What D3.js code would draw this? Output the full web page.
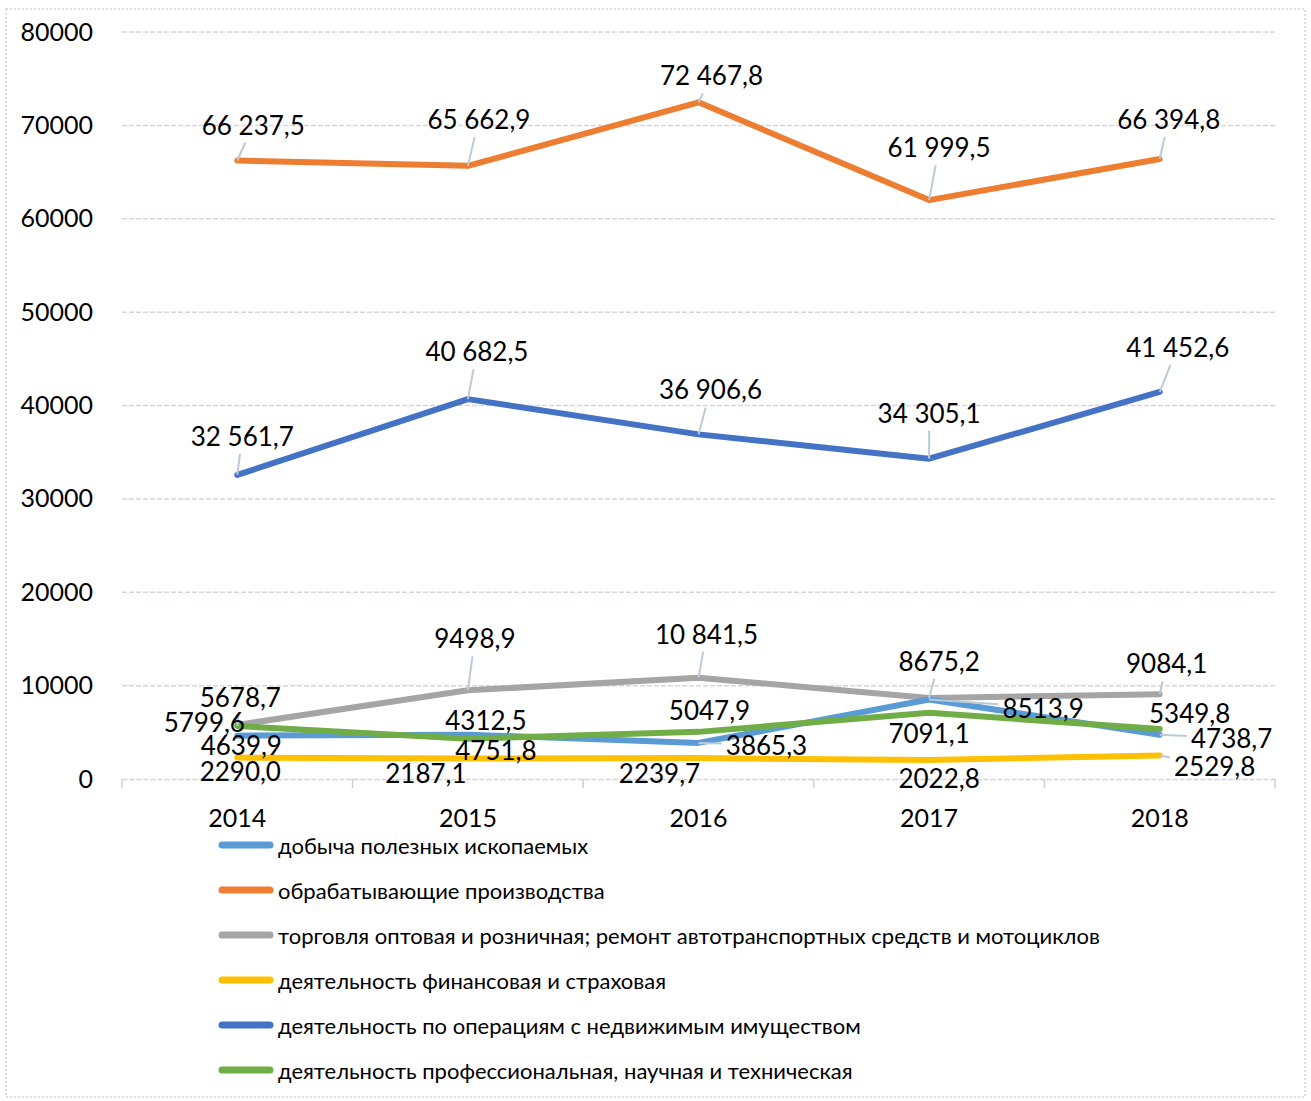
<!DOCTYPE html>
<html><head><meta charset="utf-8">
<script src="https://cdn.jsdelivr.net/npm/d3@7/dist/d3.min.js"></script>
<style>
html,body{margin:0;padding:0;background:#fff;}
svg{display:block;}
text{font-family:Lato,"Open Sans",sans-serif;fill:#000;}
</style></head><body>
<svg id="chart" width="1311" height="1101"></svg>
<script>
// ---- data ----
const years = ["2014","2015","2016","2017","2018"];
const yTicks = [0,10000,20000,30000,40000,50000,60000,70000,80000];
const seriesNames = [
  "добыча полезных ископаемых",
  "обрабатывающие производства",
  "торговля оптовая и розничная; ремонт автотранспортных средств и мотоциклов",
  "деятельность финансовая и страховая",
  "деятельность по операциям с недвижимым имуществом",
  "деятельность профессиональная, научная и техническая"
];
const mining        = [4639.9, 4751.8, 3865.3, 8513.9, 4738.7];
const manufacturing = [66237.5, 65662.9, 72467.8, 61999.5, 66394.8];
const trade         = [5799.6, 9498.9, 10841.5, 8675.2, 9084.1];
const finance       = [2290.0, 2187.1, 2239.7, 2022.8, 2529.8];
const realEstate    = [32561.7, 40682.5, 36906.6, 34305.1, 41452.6];
const professional  = [5678.7, 4312.5, 5047.9, 7091.1, 5349.8];

// ---- styling / layout (not data) ----
const colors = ["#5B9BD5","#ED7D31","#A5A5A5","#FFC000","#4472C4","#70AD47"];
const labelOffsets = [
  [[4,9],[28,15],[68,2],[114,8],[72,3]],
  [[16,-36],[11,-47],[13,-27],[10,-53],[9,-40]],
  [[-33,-3],[7,-52],[8,-44],[10,-37],[7,-31]],
  [[3,13],[-42,14],[-39,15],[10,18],[55,11]],
  [[5,-39],[9,-48],[12,-45],[0,-46],[18,-45]],
  [[3,-29],[18,-19],[11,-22],[0,20],[30,-16]]
];
const drawOrder = [1,4,2,3,0,5];
const allSeries = [mining, manufacturing, trade, finance, realEstate, professional];

const svg = d3.select("#chart");
const pL = 122, pR = 1275, pT = 32, pB = 779;

const x = d3.scaleBand().domain(years).range([pL,pR]).padding(0);
const xc = d => x(d) + x.bandwidth()/2;
const y = d3.scaleLinear().domain([0,80000]).range([pB, pT]);

// outer border
svg.append("rect").attr("x",6).attr("y",9).attr("width",1299).attr("height",1088)
  .attr("fill","none").attr("stroke","#d6cfdc").attr("stroke-width",1.5).attr("stroke-dasharray","2,2");

// gridlines
svg.append("g").selectAll("line").data(yTicks.filter(t=>t>0)).join("line")
  .attr("x1",pL).attr("x2",pR).attr("y1",d=>y(d)).attr("y2",d=>y(d))
  .attr("stroke","#dcd2e2").attr("stroke-width",1.5).attr("stroke-dasharray","5,2");

// y axis labels
const yAxis = d3.axisLeft(y).tickValues(yTicks).tickSize(0).tickPadding(0).tickFormat(d=>String(d));
const gy = svg.append("g").attr("transform","translate(93,0)").call(yAxis);
gy.select(".domain").remove();
gy.selectAll("text").attr("font-size",25).attr("font-family","Lato").attr("fill","#000");

// x axis
const xAxis = d3.axisBottom(x).tickSize(0).tickPadding(0);
const gx = svg.append("g").attr("transform",`translate(0,${pB})`).call(xAxis);
gx.select(".domain").attr("stroke","#d4cdd8").attr("stroke-width",1.5).attr("stroke-dasharray","5,2");
gx.selectAll("text").attr("font-size",25).attr("font-family","Lato").attr("fill","#000")
  .attr("y",38).attr("dy",null).attr("dominant-baseline","central");
const edges = years.map(d=>x(d)).concat([pR]);
svg.append("g").selectAll("line").data(edges).join("line")
  .attr("x1",d=>d).attr("x2",d=>d).attr("y1",pB).attr("y2",pB+9)
  .attr("stroke","#d4cdd8").attr("stroke-width",1.5);

// lines
const line = d3.line().x((d,i)=>xc(years[i])).y(d=>y(d));
const gLines = svg.append("g");
drawOrder.forEach(si=>{
  gLines.append("path").datum(allSeries[si]).attr("d",line)
    .attr("fill","none").attr("stroke",colors[si]).attr("stroke-width",6)
    .attr("stroke-linecap","round").attr("stroke-linejoin","round");
});

// labels
const fmt = v => {
  const s = v.toFixed(1).replace(".",",");
  const [ip, dp] = s.split(",");
  const ipf = ip.length > 4 ? ip.slice(0, ip.length-3) + " " + ip.slice(-3) : ip;
  return ipf + "," + dp;
};
const gLead = svg.append("g");
const gLab = svg.append("g");
allSeries.forEach((ser, si)=>{
  ser.forEach((v,i)=>{
    const px = xc(years[i]), py = y(v);
    const [dx,dy] = labelOffsets[si][i];
    const lx = px+dx, ly = py+dy;
    const t = gLab.append("text").attr("x",lx).attr("y",ly)
      .attr("text-anchor","middle").attr("dominant-baseline","central")
      .attr("font-size",26).text(fmt(v));
    const b = t.node().getBBox();
    // half extents of label box plus gap
    const hw = b.width/2 + 4, hh = 12 + 6;
    const vx = px - lx, vy = py - ly;
    // parameter where ray from label centre to point leaves the box
    const tx = vx !== 0 ? hw/Math.abs(vx) : Infinity;
    const ty = vy !== 0 ? hh/Math.abs(vy) : Infinity;
    const s = Math.min(tx, ty);
    if (s < 1) {
      const ex = lx + vx*s, ey = ly + vy*s;
      if (Math.hypot(ex-px, ey-py) > 9) {
        gLead.append("line").attr("x1",px).attr("y1",py).attr("x2",ex).attr("y2",ey)
          .attr("stroke","#bccad8").attr("stroke-width",2);
      }
    }
  });
});

// legend
const gLeg = svg.append("g");
seriesNames.forEach((n,i)=>{
  const ly = 845 + i*45;
  gLeg.append("line").attr("x1",222).attr("x2",270).attr("y1",ly).attr("y2",ly)
    .attr("stroke",colors[i]).attr("stroke-width",7).attr("stroke-linecap","round");
  gLeg.append("text").attr("x",278).attr("y",ly).attr("dominant-baseline","central")
    .attr("font-size",22).text(n);
});
</script>
</body></html>
